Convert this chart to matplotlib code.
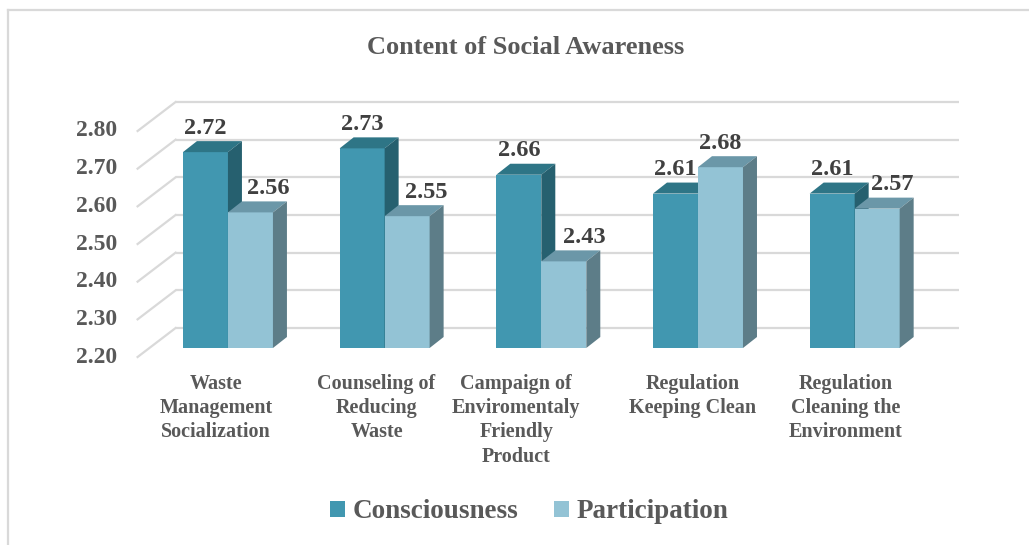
import numpy as np
import matplotlib
matplotlib.use('Agg')
import matplotlib.pyplot as plt
from matplotlib.patches import Polygon, Patch
from matplotlib.lines import Line2D

# data
categories = ['Waste\nManagement\nSocialization',
              'Counseling of\nReducing\nWaste',
              'Campaign of\nEnviromentaly\nFriendly\nProduct',
              'Regulation\nKeeping Clean',
              'Regulation\nCleaning the\nEnvironment']
consciousness = [2.72, 2.73, 2.66, 2.61, 2.61]
participation = [2.56, 2.55, 2.43, 2.68, 2.57]
yticks = [2.20, 2.30, 2.40, 2.50, 2.60, 2.70, 2.80]
series_names = ['Consciousness', 'Participation']

# styles
front_cols = ['#4197B0', '#93C3D5']
top_cols = ['#2E7586', '#6B97A8']
side_cols = ['#26606F', '#5D7D88']
grid_col = '#D9D9D9'
text_col = '#595959'
label_col = '#404040'
label_shift = [[0, 18], [0, 19], [0, 21], [0, 0], [0, 15]]  # px, data label nudges
cat_shift = [-12, -8, -25, -5, -9]  # px

plt.rcParams['font.family'] = ['Liberation Serif', 'DejaVu Serif']
plt.rcParams['font.weight'] = 'bold'

W, H = 1029, 545
fig = plt.figure(figsize=(W / 100, H / 100), dpi=100)
ax_l, ax_r, ax_b, ax_t = 149.6, 933.0, 348.0, 122.0
ax = fig.add_axes([ax_l / W, (H - ax_b) / H, (ax_r - ax_l) / W, (ax_b - ax_t) / H])
ax.set_xlim(-0.5, len(categories) - 0.5)
ax.set_ylim(yticks[0], yticks[-1])
ax.axis('off')

# pixel -> data units
px = len(categories) / (ax_r - ax_l)
py = (yticks[-1] - yticks[0]) / (ax_b - ax_t)
base = yticks[0]
ddx, ddy = 14 * px, 11 * py        # bar depth
bdx, bdy = 26 * px, 20 * py        # back wall offset
fdx, fdy = -12 * px, -9 * py       # front (label) plane offset
bw = 45 * px

x0, x1 = -0.5, len(categories) - 0.5
for v in yticks:
    ax.plot([x0 + bdx, x1 + bdx], [v + bdy, v + bdy], color=grid_col, lw=1.6,
            clip_on=False, zorder=1, solid_capstyle='butt')
    ax.plot([x0 + fdx, x0 + bdx], [v + fdy, v + bdy], color=grid_col, lw=1.6,
            clip_on=False, zorder=1)
    ax.text(x0 + fdx - 20 * px, v + fdy, f'{v:.2f}', ha='right', va='center',
            fontsize=17, color=text_col, clip_on=False)

xs = np.arange(len(categories))
for i, x in enumerate(xs):
    for s, vals in enumerate([consciousness, participation]):
        v = vals[i]
        left = x - bw + s * bw
        right = left + bw
        z = 3 + 2 * i + s
        ax.bar(left, v - base, width=bw, bottom=base, align='edge',
               color=front_cols[s], lw=0, zorder=z, clip_on=False)
        top = [(left, v), (right, v), (right + ddx, v + ddy), (left + ddx, v + ddy)]
        side = [(right, base), (right, v), (right + ddx, v + ddy), (right + ddx, base + ddy)]
        ax.add_patch(Polygon(top, closed=True, fc=top_cols[s], lw=0, zorder=z, clip_on=False))
        ax.add_patch(Polygon(side, closed=True, fc=side_cols[s], lw=0, zorder=z, clip_on=False))
        ax.text(left + bw / 2 + label_shift[i][s] * px, v + ddy + 13 * py, f'{v:.2f}',
                ha='center', va='center', fontsize=17.5, color=label_col,
                clip_on=False, zorder=20)
    ax.text(x + cat_shift[i] * px, base - 26 * py, categories[i], ha='center', va='top',
            fontsize=14.5, color=text_col, linespacing=1.28, clip_on=False)

fig.text(526 / W, 1 - 47 / H, 'Content of Social Awareness', ha='center', va='center',
         fontsize=19, color=text_col)

handles = [Patch(facecolor=c, edgecolor='none') for c in front_cols]
fig.legend(handles, series_names, loc='center', bbox_to_anchor=(529 / W, 1 - 512 / H),
           ncol=2, frameon=False, fontsize=19.5, handlelength=0.55, handleheight=0.55,
           handletextpad=0.3, columnspacing=1.3, labelcolor=text_col)

# chart area frame (top and left edges)
fig.add_artist(Line2D([8 / W, 1], [1 - 10 / H, 1 - 10 / H], color=grid_col, lw=1.6))
fig.add_artist(Line2D([8 / W, 8 / W], [0, 1 - 10 / H], color=grid_col, lw=1.6))

fig.savefig('out.png', dpi=100)
